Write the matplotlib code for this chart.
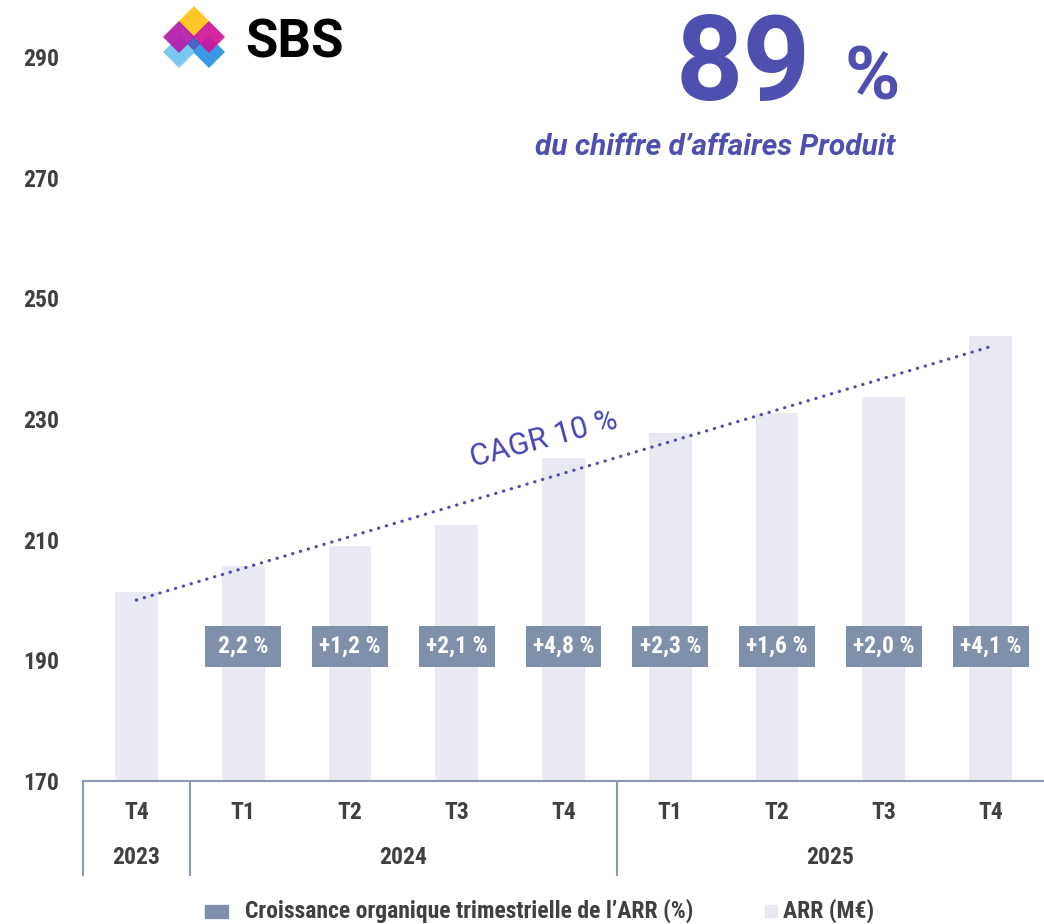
import numpy as np
import matplotlib
matplotlib.use("Agg")
from matplotlib import pyplot as plt
from matplotlib import patches as mpatches

# data
quarters = ["T4", "T1", "T2", "T3", "T4", "T1", "T2", "T3", "T4"]
years = ["2023", "2024", "2024", "2024", "2024", "2025", "2025", "2025", "2025"]
arr_values = [201.3, 205.6, 208.9, 212.5, 223.6, 227.6, 231.0, 233.6, 243.8]
growth_labels = ["2,2 %", "+1,2 %", "+2,1 %", "+4,8 %", "+2,3 %", "+1,6 %", "+2,0 %", "+4,1 %"]
cagr_start, cagr_end = 200.0, 242.0
y_ticks = [170, 190, 210, 230, 250, 270, 290]

COND = ["Roboto Condensed", "Liberation Sans Narrow", "Roboto", "DejaVu Sans"]
BAR_COLOR = "#e9e9f4"
BOX_COLOR = "#8090aa"
AXIS_COLOR = "#8a9ab2"
TEXT_COLOR = "#404040"
PURPLE = "#4f4fb0"

fig = plt.figure(figsize=(10.44, 9.24), dpi=100)
ax = fig.add_axes([83 / 1044, 1 - 781 / 924, 1 - 83 / 1044, (781 - 57) / 924])

x = np.arange(len(quarters))
ax.bar(x, np.array(arr_values) - 170, bottom=170, width=0.4, color=BAR_COLOR, zorder=1)

# growth boxes on top of quarters 1..8
gx = x[1:]
ax.bar(gx, 6.8, bottom=188.9, width=0.71, color=BOX_COLOR, zorder=3)
for xi, lab in zip(gx, growth_labels):
    ax.text(xi, 188.9 + 3.4, lab, ha="center", va="center", color="white",
            fontsize=17, fontweight="bold", family=COND, zorder=4)

# CAGR dotted line
ax.plot([x[0], x[-1]], [cagr_start, cagr_end], color=PURPLE, lw=2.3,
        linestyle=(0, (0.1, 2.45)), dash_capstyle="round", zorder=2)
ax.text(3.82, 226.6, "CAGR 10 %", rotation=15, ha="center", va="center",
        color="#4646b4", fontsize=22, family=["Roboto", "DejaVu Sans"])

ax.set_xlim(-0.5, len(quarters) - 0.5)
ax.set_ylim(170, 290)
for s in ["top", "right", "left"]:
    ax.spines[s].set_visible(False)
ax.spines["bottom"].set_color(AXIS_COLOR)
ax.spines["bottom"].set_linewidth(1.5)
ax.set_yticks(y_ticks)
ax.set_yticklabels([str(v) for v in y_ticks], fontsize=17, fontweight="bold",
                   family=COND, color=TEXT_COLOR)
ax.tick_params(axis="y", length=0, pad=17)
ax.set_xticks([])

# two level category axis
trans = ax.get_xaxis_transform()
for xi, q in zip(x, quarters):
    ax.text(xi, -0.044, q, transform=trans, ha="center", va="center", fontsize=17,
            fontweight="bold", family=COND, color=TEXT_COLOR)
groups = []
for i, yr in enumerate(years):
    if groups and groups[-1][0] == yr:
        groups[-1][2] = i
    else:
        groups.append([yr, i, i])
for yr, i0, i1 in groups:
    ax.text((i0 + i1) / 2, -0.106, yr, transform=trans, ha="center", va="center",
            fontsize=17, fontweight="bold", family=COND, color=TEXT_COLOR)
    ax.plot([i0 - 0.5, i0 - 0.5], [0, -0.13], transform=trans, color=AXIS_COLOR,
            lw=1.5, clip_on=False)

# legend
fig.patches.append(mpatches.Rectangle((205 / 1044, 1 - 918 / 924), 23 / 1044, 13 / 924,
                                      transform=fig.transFigure, color=BOX_COLOR))
fig.text(245 / 1044, 1 - 911 / 924, "Croissance organique trimestrielle de l\u2019ARR (%)",
         ha="left", va="center", fontsize=17, fontweight="bold", family=COND, color=TEXT_COLOR)
fig.patches.append(mpatches.Rectangle((765 / 1044, 1 - 917 / 924), 12 / 1044, 12 / 924,
                                      transform=fig.transFigure, color=BAR_COLOR))
fig.text(783 / 1044, 1 - 911 / 924, "ARR (M\u20ac)", ha="left", va="center", fontsize=17,
         fontweight="bold", family=COND, color=TEXT_COLOR)

# headline
fig.text(811 / 1044, 1 - 100 / 924, "89", ha="right", va="baseline", fontsize=85,
         fontweight="bold", family=["Roboto", "DejaVu Sans"], color=PURPLE)
fig.text(844 / 1044, 1 - 100 / 924, "%", ha="left", va="baseline", fontsize=54,
         fontweight="bold", family=["Roboto", "DejaVu Sans"], color=PURPLE)
fig.text(895 / 1044, 1 - 155 / 924, "du chiffre d\u2019affaires Produit", ha="right",
         va="baseline", fontsize=21.5, fontweight="bold", style="italic",
         family=["Roboto", "DejaVu Sans"], color=PURPLE)

# SBS logo
def diamond(cx, cy, r, color, alpha=1.0):
    pts = [(cx, cy - r), (cx + r, cy), (cx, cy + r), (cx - r, cy)]
    pts = [(px / 1044, 1 - py / 924) for px, py in pts]
    fig.patches.append(mpatches.Polygon(pts, closed=True, transform=fig.transFigure,
                                        color=color, alpha=alpha, lw=0))

diamond(179, 52, 16, "#7cc8f0")
diamond(209, 52, 16, "#3a98e4")
diamond(194, 22, 16, "#ffc62a")
diamond(179, 37, 16, "#b21aa8", 0.92)
diamond(209, 37, 16, "#d0149a", 0.92)
diamond(194, 44, 7, "#3552c4", 0.9)
fig.text(245 / 1044, 1 - 57 / 924, "SBS", ha="left", va="baseline", fontsize=38,
         fontweight="bold", family=["Roboto", "DejaVu Sans"], color="black")

fig.savefig("out.png", dpi=100)
